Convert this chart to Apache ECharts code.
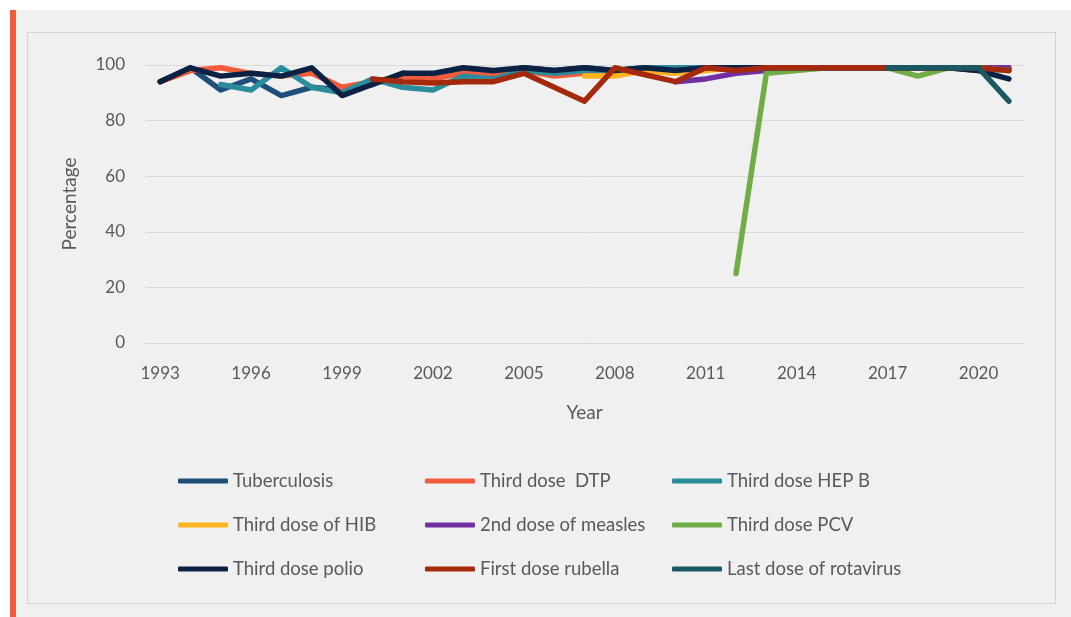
<!DOCTYPE html>
<html>
<head>
<meta charset="utf-8">
<script src="https://cdn.jsdelivr.net/npm/echarts@6/dist/echarts.min.js"></script>
<style>
	html, body { margin: 0; padding: 0; background: #fff; }
	#bar { position: absolute; left: 10px; top: 10px; width: 6px; height: 607px; background: #ef5b3b; }
	#panel { position: absolute; left: 16px; top: 10px; width: 1055px; height: 607px; background: #f0f0f0; }
	#frame { position: absolute; left: 27px; top: 32px; width: 1027px; height: 570px; border: 1px solid #d3d3d3; }
	#main { position: absolute; left: 0; top: 0; width: 1071px; height: 617px; }
</style>
</head>
<body>
<div id="bar"></div>
<div id="panel"></div>
<div id="frame"></div>
<div id="main"></div>
<script>
	// 年份
	var years = ['1993','1994','1995','1996','1997','1998','1999','2000','2001','2002',
		'2003','2004','2005','2006','2007','2008','2009','2010','2011','2012',
		'2013','2014','2015','2016','2017','2018','2019','2020','2021'];

	var tuberculosis = [94, 99, 91, 95, 89, 92, 91, 93, 97, 96, 98, 97, 99, 98, 99, 98, 99, 98, 99, 99, 99, 99, 99, 99, 99, 99, 99, 98, 99];
	var dtp3 = [94, 98, 99, 97, 96, 97, 92, 94, 96, 95, 97, 96, 98, 96, 97, 98, 98, 97, 99, 99, 99, 99, 99, 99, 99, 99, 99, 99, 98];
	var hepb3 = [null, null, 93, 91, 99, 92, 90, 95, 92, 91, 96, 95, 98, 97, 98, 98, 99, 99, 99, 99, 99, 99, 99, 99, 99, 99, 99, 99, 98];
	var hib3 = [null, null, null, null, null, null, null, null, null, null, null, null, null, null, 96, 96, 98, 97, 98, 99, 99, 99, 99, 99, 99, 99, 99, 99, 98];
	var measles2 = [null, null, null, null, null, null, null, null, null, null, null, null, null, null, null, null, null, 94, 95, 97, 98, 99, 99, 99, 99, 99, 99, 99, 99];
	var pcv3 = [null, null, null, null, null, null, null, null, null, null, null, null, null, null, null, null, null, null, null, 25, 97, 98, 99, 99, 99, 96, 99, 99, 98];
	var polio3 = [94, 99, 96, 97, 96, 99, 89, 93, 97, 97, 99, 98, 99, 98, 99, 98, 99, 98, 99, 99, 99, 99, 99, 99, 99, 99, 99, 98, 95];
	var rubella1 = [null, null, null, null, null, null, null, 95, 94, 93.5, 94, 94, 97, 92, 87, 99, 96.5, 94, 99, 98, 99, 99, 99, 99, 99, 99, 99, 99, 98];
	var rotaLast = [null, null, null, null, null, null, null, null, null, null, null, null, null, null, null, null, null, null, null, null, null, null, null, null, 99, 99, 99, 99, 87];

	var names = ['Tuberculosis', 'Third dose  DTP', 'Third dose HEP B',
		'Third dose of HIB', '2nd dose of measles', 'Third dose PCV',
		'Third dose polio', 'First dose rubella', 'Last dose of rotavirus'];
	var colors = ['#1f4e79', '#ef5b3b', '#2b8c9b', '#ffb41f', '#7030a0', '#70ad47', '#0c2244', '#a52a0d', '#1b5862'];
	var values = [tuberculosis, dtp3, hepb3, hib3, measles2, pcv3, polio3, rubella1, rotaLast];

	var series = [];
	for (var i = 0; i < names.length; i++) {
		series.push({
			name: names[i],
			type: 'line',
			data: values[i],
			symbol: 'none',
			color: colors[i],
			lineStyle: { width: 5.5, cap: 'round', join: 'round' },
			animation: false
		});
	}

	var myChart = echarts.init(document.getElementById('main'));
	var option = {
		backgroundColor: 'transparent',
		textStyle: { fontFamily: 'Lato' },
		grid: { left: 145, right: 47, top: 65, bottom: 274 },
		legend: {
			left: 178,
			top: 464,
			width: 760,
			padding: 0,
			icon: 'roundRect',
			itemWidth: 50,
			itemHeight: 5,
			itemGap: 10,
			itemTextGap: 3,
			textStyle: { color: '#595959', fontSize: 18.5, width: 182, lineHeight: 34, fontFamily: 'Lato' },
			data: names
		},
		xAxis: {
			type: 'category',
			data: years,
			boundaryGap: true,
			name: 'Year',
			nameLocation: 'middle',
			nameGap: 60,
			nameTextStyle: { color: '#595959', fontSize: 19 },
			axisLine: { lineStyle: { color: '#d9d9d9' } },
			axisTick: { show: false },
			axisLabel: { interval: 2, color: '#595959', fontSize: 17, margin: 22 }
		},
		yAxis: {
			type: 'value',
			min: 0,
			max: 100,
			interval: 20,
			name: 'Percentage',
			nameLocation: 'middle',
			nameGap: 66,
			nameTextStyle: { color: '#595959', fontSize: 19 },
			axisLine: { show: false },
			axisTick: { show: false },
			axisLabel: { color: '#595959', fontSize: 17, margin: 20 },
			splitLine: { lineStyle: { color: '#d9d9d9', width: 1 } }
		},
		series: series
	};
	myChart.setOption(option);
</script>
</body>
</html>
